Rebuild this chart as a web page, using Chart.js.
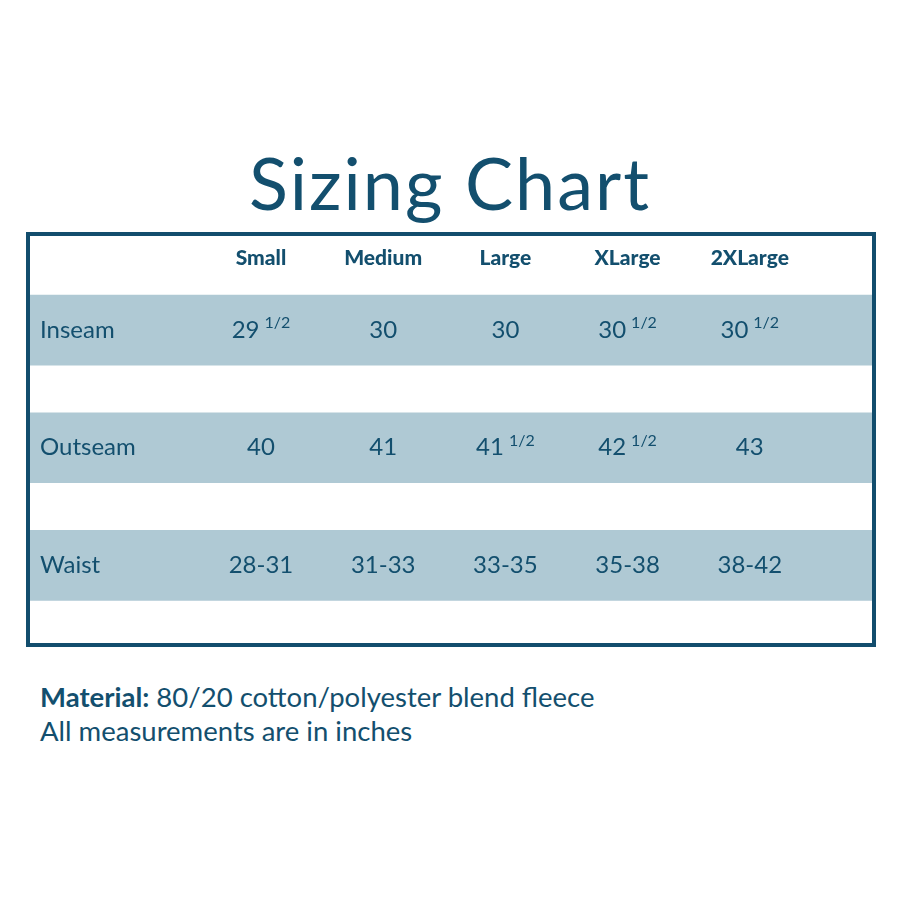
<!DOCTYPE html>
<html><head><meta charset="utf-8">
<script src="https://cdn.jsdelivr.net/npm/chart.js@4"></script>
<style>
body{margin:0;width:900px;height:900px;background:#fff;position:relative;font-family:Lato,"Open Sans",sans-serif;color:#134f6e}
#title{position:absolute;left:0;width:900px;top:140px;text-align:center;font-size:72px;line-height:84px;letter-spacing:2px}
#box{position:absolute;left:26px;top:232px;width:842px;height:407px;border:4px solid #124d6d}
#foot{position:absolute;left:40px;top:680px;font-size:27.5px;line-height:34px}
</style></head><body>
<div id="title">Sizing Chart</div>
<div id="box"><canvas id="c" width="842" height="407"></canvas></div>
<div id="foot"><b>Material:</b> 80/20 cotton/polyester blend fleece<br>All measurements are in inches</div>
<script>
const sizes = ["Small","Medium","Large","XLarge","2XLarge"];
const rows = ["Inseam","Outseam","Waist"];
const inseam = ["29 1/2","30","30","30 1/2","30 1/2"];
const outseam = ["40","41","41 1/2","42 1/2","43"];
const waist = ["28-31","31-33","33-35","35-38","38-42"];
const values = [inseam, outseam, waist];
const ink = "#134f6e";
const XMIN=-1.89, XMAX=5.0, YMIN=-0.8, YMAX=2.66, HEAD=-0.61;
const F = 'Lato, "Open Sans", sans-serif';

const textPlugin = {
  id:'tableText',
  afterDatasetsDraw(chart){
    const {ctx, scales:{x,y}} = chart;
    ctx.save(); ctx.fillStyle=ink; ctx.textBaseline='middle';
    ctx.font='900 21px '+F; ctx.textAlign='center';
    sizes.forEach((s,i)=>ctx.fillText(s, x.getPixelForValue(i), y.getPixelForValue(HEAD)));
    rows.forEach((r,ri)=>{
      const py = y.getPixelForValue(ri);
      ctx.font='24px '+F; ctx.textAlign='left';
      ctx.fillText(r, 10, py);
      values[ri].forEach((v,ci)=>{
        const px = x.getPixelForValue(ci);
        const parts = v.split(' ');
        ctx.font='24px '+F;
        const w1 = ctx.measureText(parts[0]).width;
        let w2 = 0;
        if(parts[1]){ ctx.font='16px '+F; w2 = ctx.measureText(parts[1]).width+5; }
        const start = px - (w1+w2)/2;
        ctx.textAlign='left';
        ctx.font='24px '+F;
        ctx.fillText(parts[0], start, py);
        if(parts[1]){ ctx.font='16px '+F; ctx.fillText(parts[1], start+w1+5, py-7); }
      });
    });
    ctx.restore();
  }
};

new Chart(document.getElementById('c'), {
  type:'bar',
  data:{datasets:[{
    data: rows.map((r,i)=>({x:[XMIN,XMAX], y:i})),
    backgroundColor:'#afc9d4', borderWidth:0, barThickness:70
  }]},
  options:{
    indexAxis:'y', responsive:false, animation:false, devicePixelRatio:1,
    layout:{padding:0},
    plugins:{legend:{display:false}, tooltip:{enabled:false}},
    scales:{
      x:{type:'linear', min:XMIN, max:XMAX, display:false},
      y:{type:'linear', min:YMIN, max:YMAX, reverse:true, display:false, offset:false}
    }
  },
  plugins:[textPlugin]
});
</script>
</body></html>
